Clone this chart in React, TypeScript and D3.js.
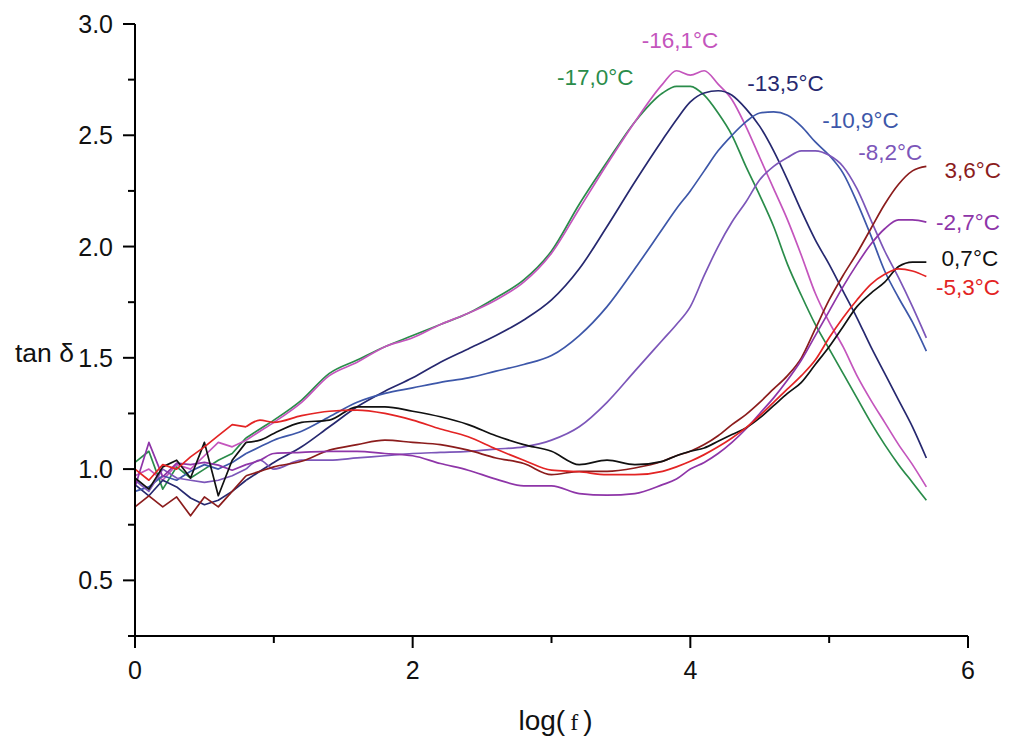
import React from "react";
import * as d3 from "d3";

// log(f) grid shared by all series
const X = [0, 0.1, 0.2, 0.3, 0.4, 0.5, 0.6, 0.7, 0.8, 0.9, 1.0, 1.2, 1.4, 1.6, 1.8, 2.0, 2.2, 2.4, 2.6, 2.8, 3.0, 3.2, 3.4, 3.6, 3.8, 3.9, 4.0, 4.1, 4.2, 4.3, 4.4, 4.5, 4.6, 4.7, 4.8, 4.9, 5.0, 5.1, 5.2, 5.3, 5.4, 5.5, 5.6, 5.7];

const T_m17_0 = [1.03, 1.08, 0.91, 1.01, 0.96, 1.0, 1.04, 1.07, 1.14, 1.18, 1.22, 1.31, 1.43, 1.49, 1.55, 1.6, 1.65, 1.7, 1.77, 1.85, 1.98, 2.19, 2.38, 2.56, 2.69, 2.72, 2.72, 2.68, 2.6, 2.5, 2.36, 2.23, 2.09, 1.92, 1.78, 1.65, 1.54, 1.43, 1.32, 1.21, 1.11, 1.02, 0.94, 0.86];
const T_m16_1 = [0.97, 1.0, 0.95, 1.02, 1.0, 1.06, 1.12, 1.1, 1.13, 1.17, 1.21, 1.3, 1.42, 1.48, 1.55, 1.59, 1.65, 1.7, 1.76, 1.84, 1.97, 2.17, 2.37, 2.56, 2.73, 2.79, 2.77, 2.79, 2.73, 2.66, 2.54, 2.4, 2.26, 2.12, 1.96, 1.79, 1.66, 1.55, 1.42, 1.31, 1.21, 1.11, 1.02, 0.92];
const T_m13_5 = [0.93, 0.88, 0.95, 0.92, 0.87, 0.84, 0.86, 0.9, 0.95, 0.99, 1.03, 1.1, 1.19, 1.28, 1.35, 1.41, 1.48, 1.54, 1.6, 1.67, 1.76, 1.9, 2.09, 2.29, 2.48, 2.57, 2.65, 2.69, 2.7, 2.68, 2.62, 2.54, 2.43, 2.3, 2.16, 2.03, 1.92, 1.8, 1.68, 1.55, 1.43, 1.31, 1.19, 1.05];
const T_m10_9 = [0.9, 0.92, 0.97, 0.95, 0.99, 1.02, 1.0, 1.03, 1.07, 1.1, 1.13, 1.17, 1.235, 1.3, 1.34, 1.365, 1.39, 1.41, 1.44, 1.47, 1.51, 1.6, 1.73, 1.9, 2.08, 2.17, 2.25, 2.34, 2.43, 2.5, 2.56, 2.6, 2.605, 2.59, 2.54, 2.47, 2.41, 2.33, 2.2, 2.05, 1.89, 1.77, 1.66, 1.53];
const T_m8_2 = [0.95, 0.9, 1.0, 0.96, 0.95, 0.94, 0.95, 0.97, 1.0, 1.04, 1.0, 1.04, 1.04, 1.05, 1.06, 1.07, 1.075, 1.08, 1.09, 1.1, 1.13, 1.19, 1.3, 1.44, 1.58, 1.65, 1.73, 1.87, 2.0, 2.11, 2.2, 2.3, 2.36, 2.4, 2.43, 2.43, 2.41, 2.36, 2.26, 2.12, 1.98, 1.86, 1.73, 1.59];
const T_p3_6 = [0.83, 0.88, 0.83, 0.875, 0.79, 0.875, 0.83, 0.9, 0.97, 0.99, 1.01, 1.035, 1.085, 1.11, 1.13, 1.12, 1.11, 1.085, 1.05, 1.025, 0.975, 0.99, 0.99, 1.005, 1.035, 1.06, 1.08, 1.11, 1.15, 1.2, 1.245, 1.3, 1.36, 1.42, 1.5, 1.63, 1.76, 1.87, 1.97, 2.08, 2.19, 2.28, 2.34, 2.36];
const T_m2_7 = [0.92, 1.12, 0.965, 1.027, 1.02, 1.03, 1.018, 0.995, 1.02, 1.04, 1.07, 1.075, 1.08, 1.08, 1.07, 1.06, 1.025, 0.995, 0.955, 0.925, 0.925, 0.89, 0.883, 0.89, 0.93, 0.955, 1.0, 1.03, 1.07, 1.12, 1.18, 1.25, 1.32, 1.4, 1.49, 1.6, 1.71, 1.82, 1.92, 2.01, 2.08, 2.12, 2.12, 2.11];
const T_p0_7 = [0.96, 0.91, 1.01, 1.04, 0.96, 1.12, 0.88, 1.04, 1.12, 1.13, 1.16, 1.21, 1.22, 1.28, 1.28, 1.26, 1.235, 1.2, 1.15, 1.11, 1.08, 1.02, 1.04, 1.02, 1.035, 1.06, 1.08, 1.095, 1.125, 1.155, 1.185, 1.23, 1.285, 1.34, 1.39, 1.47, 1.55, 1.64, 1.73, 1.79, 1.84, 1.91, 1.93, 1.93];
const T_m5_3 = [1.0, 0.95, 1.02, 1.0, 1.055, 1.1, 1.15, 1.2, 1.19, 1.22, 1.21, 1.24, 1.26, 1.265, 1.25, 1.22, 1.18, 1.145, 1.09, 1.04, 0.995, 0.988, 0.975, 0.975, 0.99, 1.01, 1.035, 1.065, 1.1, 1.14, 1.185, 1.24, 1.3, 1.36, 1.42, 1.49, 1.59, 1.68, 1.76, 1.83, 1.875, 1.9, 1.89, 1.865];

const SERIES_NAMES = ["-17,0°C", "-16,1°C", "-13,5°C", "-10,9°C", "-8,2°C", "3,6°C", "-2,7°C", "0,7°C", "-5,3°C"];
const SERIES_VALUES = [T_m17_0, T_m16_1, T_m13_5, T_m10_9, T_m8_2, T_p3_6, T_m2_7, T_p0_7, T_m5_3];
const SERIES_COLORS = ["#2a8c4a", "#c455bd", "#26286f", "#3d57a9", "#7c56b9", "#8b1c1c", "#8e35a8", "#111111", "#e32424"];
// label anchor (log f, tan δ) for each series name
const LABEL_X = [3.04, 3.65, 4.41, 4.95, 5.21, 5.83, 5.77, 5.81, 5.77];
const LABEL_Y = [2.726, 2.892, 2.70, 2.533, 2.389, 2.308, 2.074, 1.912, 1.782];

const X_MAJOR = [0, 2, 4, 6];
const X_MINOR = [1, 3, 5];
const Y_MAJOR = [0.5, 1.0, 1.5, 2.0, 2.5, 3.0];
const Y_MINOR = [0.25, 0.75, 1.25, 1.75, 2.25, 2.75];

const FONT = "Arial, 'Liberation Sans', Helvetica, sans-serif";
const NOISY_END = 8; // index where the noisy low-frequency part ends

export default function App() {
  const x = d3.scaleLinear().domain([0, 6]).range([135, 968]);
  const y = d3.scaleLinear().domain([0.25, 3.0]).range([636, 24]);
  const lineNoisy = d3
    .line<number>()
    .x((_, i) => x(X[i]))
    .y((d) => y(d))
    .curve(d3.curveLinear);
  const lineSmooth = d3
    .line<number>()
    .x((_, i) => x(X[i + NOISY_END]))
    .y((d) => y(d))
    .curve(d3.curveMonotoneX);

  const x0 = x(0);
  const y0 = y(0.25);

  return (
    <svg
      width={1016}
      height={742}
      style={{ position: "absolute", left: 0, top: 0, background: "#fff" }}
    >
      <rect x={0} y={0} width={1016} height={742} fill="#fff" />
      {/* curves */}
      {SERIES_VALUES.map((vals, k) => (
        <g key={k} fill="none" stroke={SERIES_COLORS[k]} strokeWidth={1.7} strokeLinejoin="round">
          <path d={lineNoisy(vals.slice(0, NOISY_END + 1)) || ""} />
          <path d={lineSmooth(vals.slice(NOISY_END)) || ""} />
        </g>
      ))}
      {/* labels */}
      {SERIES_NAMES.map((n, k) => (
        <text
          key={n}
          x={x(LABEL_X[k])}
          y={y(LABEL_Y[k])}
          fill={SERIES_COLORS[k]}
          fontFamily={FONT}
          fontSize={22.5}
        >
          {n}
        </text>
      ))}
      {/* axes */}
      <line x1={x0} x2={x0} y1={y(3.0)} y2={y0} stroke="#000" strokeWidth={2} />
      <line x1={x0} x2={x(6)} y1={y0} y2={y0} stroke="#000" strokeWidth={2} />
      {Y_MAJOR.map((v) => (
        <g key={"ym" + v}>
          <line x1={x0 - 12} x2={x0} y1={y(v)} y2={y(v)} stroke="#000" strokeWidth={2} />
          <text
            x={x0 - 22}
            y={y(v)}
            dy="0.36em"
            textAnchor="end"
            fontFamily={FONT}
            fontSize={25}
            fill="#111"
          >
            {v.toFixed(1)}
          </text>
        </g>
      ))}
      {Y_MINOR.map((v) => (
        <line key={"yn" + v} x1={x0 - 7} x2={x0} y1={y(v)} y2={y(v)} stroke="#000" strokeWidth={2} />
      ))}
      {X_MAJOR.map((v) => (
        <g key={"xm" + v}>
          <line x1={x(v)} x2={x(v)} y1={y0} y2={y0 + 12} stroke="#000" strokeWidth={2} />
          <text
            x={x(v)}
            y={y0 + 34}
            dy="0.36em"
            textAnchor="middle"
            fontFamily={FONT}
            fontSize={25}
            fill="#111"
          >
            {v}
          </text>
        </g>
      ))}
      {X_MINOR.map((v) => (
        <line key={"xn" + v} x1={x(v)} x2={x(v)} y1={y0} y2={y0 + 7} stroke="#000" strokeWidth={2} />
      ))}
      {/* axis titles */}
      <text x={15} y={352} dy="0.36em" fontFamily={FONT} fontSize={26.5} fill="#111">
        tan δ
      </text>
      <text x={x(3) + 4} y={720} dy="0.36em" textAnchor="middle" fontFamily={FONT} fontSize={28} fill="#111">
        log(
        <tspan fontFamily="'Liberation Serif', 'Times New Roman', serif" fontSize={24} dx={5}>
          f
        </tspan>
        <tspan dx={5}>)</tspan>
      </text>
    </svg>
  );
}
